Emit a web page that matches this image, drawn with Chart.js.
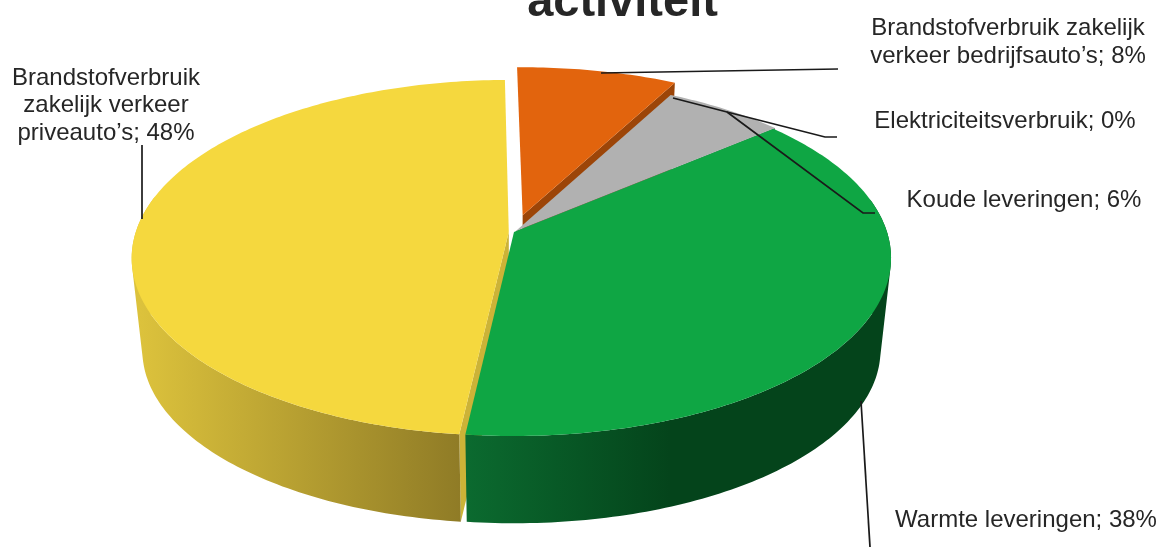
<!DOCTYPE html>
<html lang="nl">
<head>
<meta charset="UTF-8">
<title>Verbruik per activiteit</title>
<script src="https://cdn.jsdelivr.net/npm/chart.js"></script>
<style>
  html, body { margin: 0; padding: 0; background: #fff; overflow: hidden; }
  canvas { display: block; }
</style>
</head>
<body>
<canvas id="pie" width="1162" height="547"></canvas>
<script>
// yellow comes first so the later slices are painted over its cut face
const categories = ["Brandstofverbruik zakelijk verkeer priveauto's", "Brandstofverbruik zakelijk verkeer bedrijfsauto's", "Elektriciteitsverbruik", "Koude leveringen", "Warmte leveringen"];
const shares = [48, 8, 0, 6, 38];
const explode = [1.4, 10, 0, 0.8, 0]; // percent of the radius

const topColors = ["#f5d83e", "#e2640d", "#8c8c8c", "#b1b1b1", "#0fa644"];
const cutColors = ["#ccb337", "#9c4508", "#6f6f6f", "#6f6f6f", "#0a5e2a"];
const wallFrom = ["#dcc23c", "#9c4508", "#6f6f6f", "#6f6f6f", "#0b6a2f"];
const wallTo = ["#8f7b26", "#9c4508", "#6f6f6f", "#6f6f6f", "#04441b"];
const wallRange = [[140, 462], [500, 700], [500, 700], [500, 700], [468, 670]];

// tilted disc: plane coordinates (u, v) on a unit circle to canvas pixels
const CX = 514, CY = 232, RX = 373, RY = 174.2, PERSP = 0.146;
const DEPTH = 93, FLOOR_SCALE = 0.972;

function project(u, v, floor) {
  const d = 1 - PERSP * v;
  const m = floor ? FLOOR_SCALE : 1;
  return [CX + m * RX * u / d, CY + (floor ? DEPTH : 0) + m * RY * v / d];
}

function rimPoints(a0, a1, ou, ov, floor) {
  const pts = [];
  const steps = Math.max(2, Math.ceil((a1 - a0) * 60));
  for (let i = 0; i <= steps; i++) {
    const a = a0 + (a1 - a0) * i / steps;
    pts.push(project(Math.cos(a) + ou, Math.sin(a) + ov, floor));
  }
  return pts;
}

function tracePoly(ctx, pts) {
  pts.forEach((p, i) => i ? ctx.lineTo(p[0], p[1]) : ctx.moveTo(p[0], p[1]));
  ctx.closePath();
}

function fillPoly(ctx, pts, color) {
  ctx.beginPath();
  tracePoly(ctx, pts);
  ctx.fillStyle = color;
  ctx.fill();
}

function signedArea(q) {
  let s = 0;
  q.forEach((p, i) => {
    const n = q[(i + 1) % q.length];
    s += p[0] * n[1] - n[0] * p[1];
  });
  return s;
}

// the library works out start and end angle from the data, this only paints them as a thick slice
Chart.ArcElement.prototype.draw = function (ctx) {
  const a0 = this.startAngle, a1 = this.endAngle;
  if (a1 - a0 <= 0) return;
  const i = this.$context.dataIndex;
  const mid = (a0 + a1) / 2;
  const off = (this.options.offset || 0) / 100;
  const ou = Math.cos(mid) * off, ov = Math.sin(mid) * off;

  const top = rimPoints(a0, a1, ou, ov, false);
  const floor = rimPoints(a0, a1, ou, ov, true);
  const hubTop = project(ou, ov, false);
  const hubFloor = project(ou, ov, true);
  const last = top.length - 1;

  // cut faces, only the ones clearly turned towards the viewer
  if (Math.cos(a0) < -0.05) fillPoly(ctx, [hubTop, top[0], floor[0], hubFloor], cutColors[i]);
  if (Math.cos(a1) > 0.05) fillPoly(ctx, [hubTop, top[last], floor[last], hubFloor], cutColors[i]);

  // outer wall as strips, all wound the same way so the sides stay filled; the back of the rim is skipped
  const grad = ctx.createLinearGradient(wallRange[i][0], 0, wallRange[i][1], 0);
  grad.addColorStop(0, wallFrom[i]);
  grad.addColorStop(1, wallTo[i]);
  ctx.beginPath();
  for (let k = 0; k < last; k++) {
    if (Math.sin(a0 + (a1 - a0) * k / last) < -0.2) continue;
    const q = [top[k], top[k + 1], floor[k + 1], floor[k]];
    tracePoly(ctx, signedArea(q) < 0 ? q.reverse() : q);
  }
  ctx.fillStyle = grad;
  ctx.fill();

  // top face
  fillPoly(ctx, [hubTop].concat(top), this.options.backgroundColor);
};

const textLines = [
  { x: 106, y: 85, text: "Brandstofverbruik" },
  { x: 106, y: 112, text: "zakelijk verkeer" },
  { x: 106, y: 140, text: "priveauto’s; 48%" },
  { x: 1008, y: 35, text: "Brandstofverbruik zakelijk" },
  { x: 1008, y: 63, text: "verkeer bedrijfsauto’s; 8%" },
  { x: 1005, y: 128, text: "Elektriciteitsverbruik; 0%" },
  { x: 1024, y: 207, text: "Koude leveringen; 6%" },
  { x: 1026, y: 527, text: "Warmte leveringen; 38%" }
];

const leaders = [
  [[601, 73], [838, 69]],
  [[673, 98], [727, 112], [825, 137], [837, 137]],
  [[727, 112], [863, 213], [875, 213]],
  [[142, 145], [142, 219]],
  [[861, 401], [870, 547]]
];

const labelPlugin = {
  id: 'labelPlugin',
  afterDraw(chart) {
    const ctx = chart.ctx;
    ctx.save();
    ctx.strokeStyle = '#1a1a1a';
    ctx.lineWidth = 1.7;
    leaders.forEach(line => {
      ctx.beginPath();
      line.forEach((p, i) => i ? ctx.lineTo(p[0], p[1]) : ctx.moveTo(p[0], p[1]));
      ctx.stroke();
    });

    ctx.fillStyle = '#262626';
    ctx.textAlign = 'center';
    ctx.textBaseline = 'alphabetic';
    ctx.font = '24px "Liberation Sans", Arial, sans-serif';
    textLines.forEach(t => ctx.fillText(t.text, t.x, t.y));

    ctx.font = 'bold 47px "Liberation Sans", Arial, sans-serif';
    ctx.fillText('activiteit', 622.5, 16);
    ctx.restore();
  }
};

new Chart(document.getElementById('pie').getContext('2d'), {
  type: 'pie',
  data: {
    labels: categories,
    datasets: [{
      data: shares,
      backgroundColor: topColors,
      offset: explode,
      borderWidth: 0
    }]
  },
  options: {
    responsive: false,
    animation: false,
    rotation: 186.4, // yellow starts just past the bottom, orange ends up at twelve o'clock
    plugins: { legend: { display: false }, tooltip: { enabled: false } }
  },
  plugins: [labelPlugin]
});
</script>
</body>
</html>
